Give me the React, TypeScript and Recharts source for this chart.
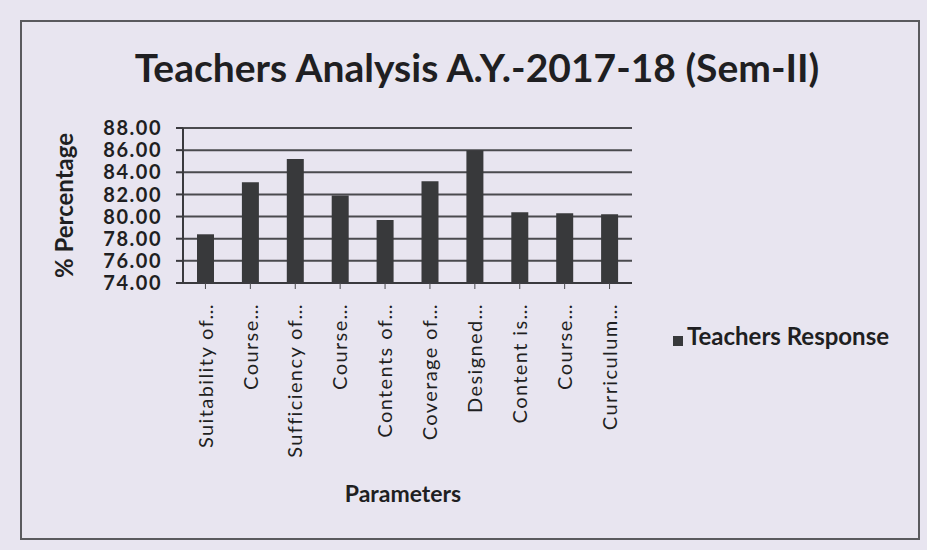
import React from "react";
import {
  BarChart,
  Bar,
  XAxis,
  YAxis,
  CartesianGrid,
  Legend,
} from "recharts";

const categories = [
  "Suitability of…",
  "Course…",
  "Sufficiency of…",
  "Course…",
  "Contents of…",
  "Coverage of…",
  "Designed…",
  "Content is…",
  "Course…",
  "Curriculum…",
];

const teachersResponse = [78.4, 83.1, 85.2, 81.9, 79.7, 83.2, 86.0, 80.4, 80.3, 80.2];

const yTicks = [74, 76, 78, 80, 82, 84, 86, 88];

const data = categories.map((name, i) => ({
  name,
  response: teachersResponse[i],
}));

const FONT = "Lato, 'Open Sans', sans-serif";
const INK = "#1f1f22";

const XTick = ({ x, y, payload }: any) => (
  <g transform={`translate(${x},${y})`}>
    <text
      transform="rotate(-90)"
      textAnchor="end"
      dy="0.36em"
      x={-12}
      fontSize={20}
      letterSpacing={1.4}
      fontFamily={FONT}
      fill={INK}
    >
      {payload.value}
    </text>
  </g>
);

function App() {
  return (
    <div
      style={{
        position: "absolute",
        left: 0,
        top: 0,
        width: 927,
        height: 550,
        background: "#e8e5f0",
        overflow: "hidden",
        fontFamily: FONT,
      }}
    >
      <div
        style={{
          position: "absolute",
          left: 20,
          top: 20,
          width: 896,
          height: 516,
          border: "2px solid #5a5a5e",
        }}
      />
      <div
        style={{
          position: "absolute",
          left: 0,
          top: 44,
          width: 954,
          textAlign: "center",
          fontSize: 39,
          fontWeight: 700,
          color: INK,
        }}
      >
        Teachers Analysis A.Y.-2017-18 (Sem-II)
      </div>
      <div
        style={{
          position: "absolute",
          left: 303,
          top: 479,
          width: 200,
          textAlign: "center",
          fontSize: 23,
          fontWeight: 700,
          color: INK,
        }}
      >
        Parameters
      </div>
      <div style={{ position: "absolute", left: 0, top: 0 }}>
        <BarChart
          width={927}
          height={550}
          data={data}
          margin={{ top: 128, right: 295, left: 0, bottom: 67 }}
          barSize={17}
        >
          <CartesianGrid
            vertical={false}
            stroke="#4a4a4e"
            strokeWidth={2}
          />
          <XAxis
            dataKey="name"
            interval={0}
            tick={<XTick />}
            tickLine={{ stroke: "#4a4a4e" }}
            axisLine={{ stroke: "#3a3a3e", strokeWidth: 2 }}
            height={200}
          />
          <YAxis
            width={183}
            domain={[74, 88]}
            ticks={yTicks}
            interval={0}
            tickFormatter={(v: number) => v.toFixed(2)}
            tick={{
              fontSize: 20,
              fontWeight: 700,
              fill: INK,
              fontFamily: FONT,
              letterSpacing: 1.5,
            }}
            tickSize={7}
            tickMargin={14}
            tickLine={{ stroke: "#3a3a3e", strokeWidth: 2 }}
            axisLine={{ stroke: "#3a3a3e", strokeWidth: 2 }}
            label={{
              value: "% Percentage",
              angle: -90,
              position: "insideLeft",
              offset: 64,
              style: {
                textAnchor: "middle",
                fontSize: 24,
                fontWeight: 700,
                fill: INK,
                fontFamily: FONT,
              },
            }}
          />
          <Legend
            layout="horizontal"
            align="center"
            verticalAlign="middle"
            iconType="square"
            iconSize={10}
            wrapperStyle={{ left: 656, top: 321, width: 260, textAlign: "left" }}
            formatter={(v: string) => (
              <span style={{ color: INK, fontSize: 24, fontWeight: 700, fontFamily: FONT }}>
                {v}
              </span>
            )}
          />
          <Bar
            dataKey="response"
            name="Teachers Response"
            fill="#38393b"
            isAnimationActive={false}
          />
        </BarChart>
      </div>
    </div>
  );
}

export default App;
